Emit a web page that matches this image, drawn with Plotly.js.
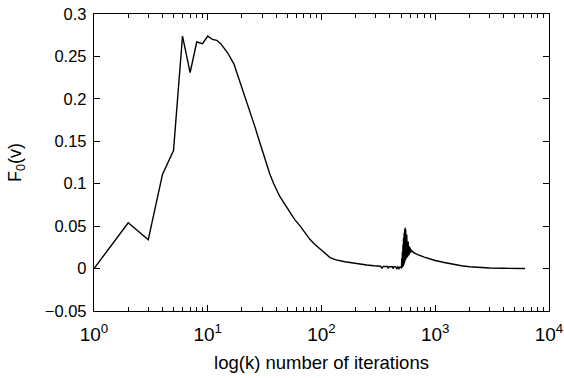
<!DOCTYPE html>
<html>
<head>
<meta charset="utf-8">
<script src="https://cdn.plot.ly/plotly-3.0.1.min.js"></script>
<style>html,body{margin:0;padding:0;background:#fff;}#chart{width:564px;height:378px;}</style>
</head>
<body>
<div id="chart"></div>
<script>
// iteration counts k
const iterations = [
  1, 2, 3, 4, 5, 6, 7, 8, 9, 10, 11, 12, 13, 14, 15, 17, 19, 21, 24, 26, 28, 30, 32, 35, 38, 43, 48, 53, 58, 65, 72, 79, 88, 97,
  108, 119, 132, 145, 160, 178, 200, 218, 250, 290, 330, 340, 350, 380, 385, 395, 420, 425, 435, 450, 460, 470, 480, 490, 500,
  505, 508, 511, 514, 517, 520, 523, 526, 529, 532, 535, 538, 541, 544, 547, 550, 553, 556, 559, 562,
  566, 570, 574, 578, 582, 586, 590, 595, 600, 605, 610, 616, 622, 630, 640, 660,
  700, 800, 900, 1000, 1200, 1400, 1700, 2000, 2500, 3000, 4000, 5000, 6150
];
// F_0(v) values
const f0Values = [
  0.000, 0.054, 0.034, 0.111, 0.139, 0.274, 0.231, 0.267, 0.265, 0.274, 0.270, 0.269, 0.265, 0.260, 0.254, 0.241, 0.222, 0.204, 0.183, 0.167, 0.153, 0.141, 0.127, 0.112, 0.100, 0.085, 0.075, 0.066, 0.058, 0.050, 0.042, 0.0345, 0.028, 0.0228,
  0.017, 0.013, 0.0105, 0.009, 0.008, 0.0072, 0.006, 0.0052, 0.0042, 0.0033, 0.0027, 0.0005, 0.0026, 0.0024, 0.0003, 0.0023, 0.0022, 0.0000, 0.0021, 0.0020, 0.0000, 0.0020, 0.0000, 0.0020, 0.0018,
  0.001, 0.012, 0.001, 0.020, 0.002, 0.028, 0.003, 0.036, 0.004, 0.042, 0.006, 0.046, 0.008, 0.048, 0.010, 0.046, 0.012, 0.043, 0.013, 0.040,
  0.014, 0.036, 0.015, 0.032, 0.016, 0.029, 0.017, 0.026, 0.018, 0.024, 0.019, 0.022, 0.0195, 0.021, 0.019, 0.018,
  0.0165, 0.0135, 0.011, 0.0095, 0.0072, 0.0052, 0.0033, 0.0022, 0.0012, 0.0007, 0.0003, 0.0001, 0.0000
];
const xTickVals = [1, 10, 100, 1000, 10000];
const xTickText = ['10<sup>0</sup>', '10<sup>1</sup>', '10<sup>2</sup>', '10<sup>3</sup>', '10<sup>4</sup>'];
const yTickVals = [-0.05, 0, 0.05, 0.1, 0.15, 0.2, 0.25, 0.3];
const yTickText = ['\u22120.05', '0', '0.05', '0.1', '0.15', '0.2', '0.25', '0.3'];

const font = {family: 'Liberation Sans, Arial, Helvetica, sans-serif', color: '#000000'};

Plotly.newPlot('chart', [{
  x: iterations, y: f0Values, type: 'scatter', mode: 'lines',
  line: {color: '#000000', width: 1.4}, hoverinfo: 'skip'
}], {
  width: 564, height: 378,
  margin: {l: 94, r: 15, t: 14, b: 67},
  paper_bgcolor: '#ffffff', plot_bgcolor: '#ffffff',
  showlegend: false,
  font: Object.assign({size: 16}, font),
  xaxis: {
    type: 'log', range: [0, 4],
    tickmode: 'array', tickvals: xTickVals, ticktext: xTickText,
    ticks: 'inside', ticklen: 6, tickcolor: '#000', tickwidth: 1,
    showline: true, linecolor: '#000', linewidth: 1.2, mirror: 'allticks',
    showgrid: false, zeroline: false,
    ticklabelstandoff: 6,
    tickfont: Object.assign({size: 19}, font),
    minor: {dtick: 'D1', ticks: 'inside', ticklen: 4, tickcolor: '#000', tickwidth: 1, showgrid: false},
    title: {text: 'log(k) number of iterations', font: Object.assign({size: 18.5}, font), standoff: 12}
  },
  yaxis: {
    range: [-0.05, 0.3],
    tickmode: 'array', tickvals: yTickVals, ticktext: yTickText,
    ticks: 'inside', ticklen: 6, tickcolor: '#000', tickwidth: 1,
    showline: true, linecolor: '#000', linewidth: 1.2, mirror: 'allticks',
    showgrid: false, zeroline: false,
    ticklabelstandoff: 3,
    tickfont: Object.assign({size: 16.5}, font),
    title: {text: 'F<sub>0</sub>(v)', font: Object.assign({size: 18}, font), standoff: 18}
  }
}, {staticPlot: true, displayModeBar: false});
</script>
</body>
</html>
